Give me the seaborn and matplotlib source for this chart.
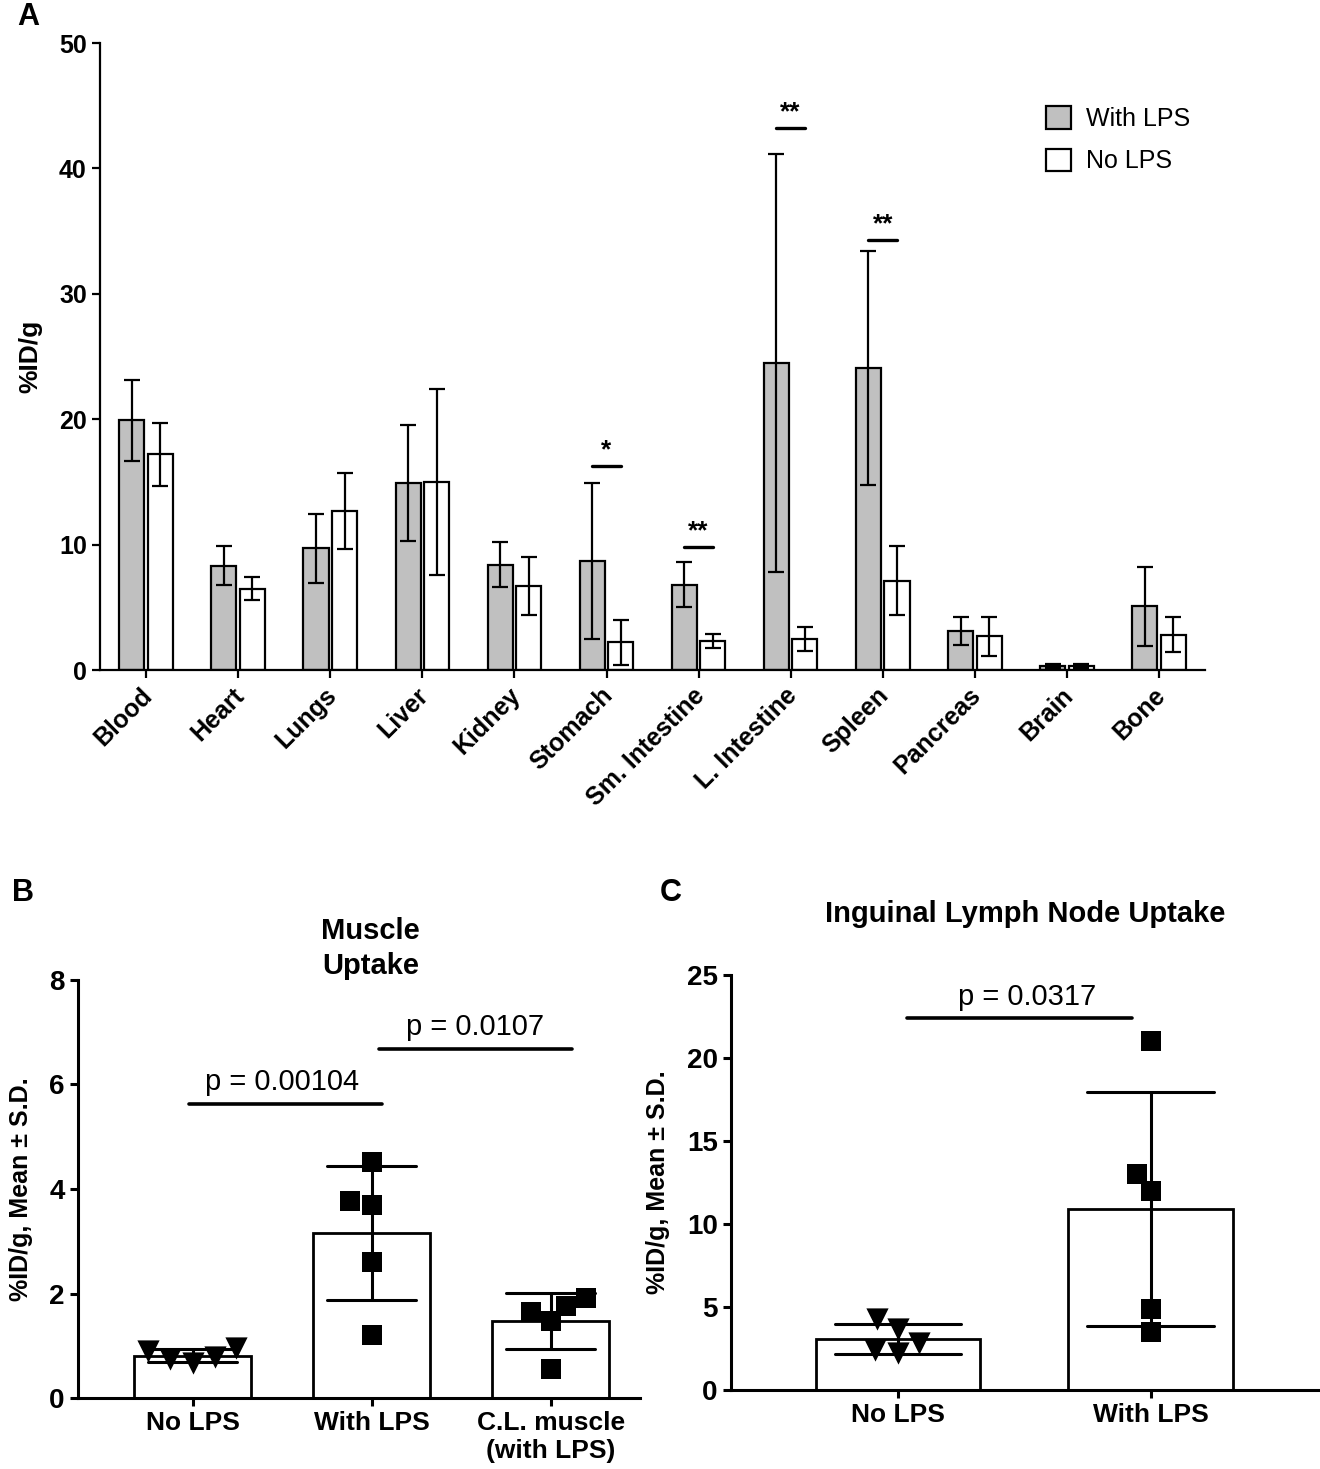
import numpy as np
import pandas as pd
import matplotlib
matplotlib.use("Agg")
import matplotlib.pyplot as plt
import matplotlib.transforms as mtransforms
import seaborn as sns

# ---- Panel A: biodistribution, mean and SD per organ ----
organs = ["Blood", "Heart", "Lungs", "Liver", "Kidney", "Stomach",
          "Sm. Intestine", "L. Intestine", "Spleen", "Pancreas", "Brain", "Bone"]
with_lps_mean = [19.9, 8.3, 9.7, 14.9, 8.4, 8.7, 6.8, 24.5, 24.1, 3.1, 0.3, 5.1]
with_lps_sd = [3.2, 1.55, 2.75, 4.65, 1.8, 6.25, 1.8, 16.65, 9.35, 1.1, 0.15, 3.15]
no_lps_mean = [17.2, 6.5, 12.7, 15.0, 6.7, 2.2, 2.3, 2.5, 7.1, 2.7, 0.3, 2.8]
no_lps_sd = [2.5, 0.9, 3.05, 7.4, 2.3, 1.8, 0.55, 0.95, 2.75, 1.55, 0.15, 1.4]
# significance marks: (organ index, bracket height, label)
sig_marks = [(5, 16.3, "*"), (6, 9.8, "**"), (7, 43.2, "**"), (8, 34.3, "**")]

# ---- Panel B: muscle uptake, individual animals ----
muscle_groups = ["No LPS", "With LPS", "C.L. muscle\n(with LPS)"]
muscle_no_lps = [0.74, 0.96, 0.79, 0.90, 0.67]
muscle_with_lps = [4.52, 3.69, 3.78, 2.61, 1.21]
muscle_cl = [1.76, 1.91, 1.65, 1.48, 0.55]

# ---- Panel C: inguinal lymph node uptake ----
lymph_groups = ["No LPS", "With LPS"]
lymph_no_lps = [2.2, 4.3, 2.8, 3.7, 2.4]
lymph_with_lps = [21.0, 12.0, 13.0, 4.9, 3.5]

sns.set_style("ticks")
plt.rcParams['font.family'] = ['Liberation Sans', 'DejaVu Sans']
plt.rcParams['text.color'] = 'black'
plt.rcParams['axes.labelcolor'] = 'black'

fig = plt.figure(figsize=(13.2, 14.69), dpi=100)


def style_axis(ax, lw, ticksize):
    sns.despine(ax=ax)
    for side in ("left", "bottom"):
        ax.spines[side].set_linewidth(lw)
        ax.spines[side].set_color("black")
    ax.tick_params(axis="both", width=lw, length=6, color="black",
                   labelsize=ticksize, labelcolor="black")


# ================= Panel A =================
ax_a = fig.add_axes([0.0758, 0.5439, 0.8371, 0.4268])
df_a = pd.DataFrame({
    "organ": organs * 2,
    "group": ["With LPS"] * len(organs) + ["No LPS"] * len(organs),
    "value": with_lps_mean + no_lps_mean,
})
sns.barplot(data=df_a, x="organ", y="value", hue="group", order=organs,
            hue_order=["With LPS", "No LPS"],
            palette={"With LPS": "#c0c0c0", "No LPS": "white"},
            saturation=1, edgecolor="black", linewidth=1.6,
            width=0.62, gap=0.12, errorbar=None, ax=ax_a)

centers = []
for cont, sds in zip(ax_a.containers, [with_lps_sd, no_lps_sd]):
    xs = [p.get_x() + p.get_width() / 2 for p in cont]
    ys = [p.get_height() for p in cont]
    centers.append(xs)
    ax_a.errorbar(xs, ys, yerr=sds, fmt="none", ecolor="black",
                  elinewidth=1.6, capsize=5.5, capthick=1.6, zorder=4)

for idx, h, lab in sig_marks:
    ax_a.plot([centers[0][idx], centers[1][idx]], [h, h], color="black", lw=2.4)
    ax_a.text((centers[0][idx] + centers[1][idx]) / 2, h + 0.3, lab,
              ha="center", va="bottom", fontsize=19, fontweight="bold")

ax_a.set_xlim(-0.5, 11.5)
ax_a.set_ylim(0, 50)
ax_a.set_yticks([0, 10, 20, 30, 40, 50])
style_axis(ax_a, 1.6, 18)
ax_a.set_xlabel("")
ax_a.set_ylabel("%ID/g", fontsize=19, fontweight="bold", labelpad=12)
shift = mtransforms.ScaledTranslation(-6 / 100, 0, fig.dpi_scale_trans)
for lbl in ax_a.get_xticklabels():
    lbl.set_rotation(45)
    lbl.set_ha("right")
    lbl.set_rotation_mode("anchor")
    lbl.set_fontweight("bold")
    lbl.set_fontsize(18)
    lbl.set_transform(lbl.get_transform() + shift)
plt.setp(ax_a.get_yticklabels(), fontweight="bold")

handles, labels = ax_a.get_legend_handles_labels()
ax_a.legend(handles, labels, loc="upper left", bbox_to_anchor=(0.836, 0.935),
            frameon=False, fontsize=18, handlelength=1.0, handleheight=1.0,
            labelspacing=0.7, handletextpad=0.6)

# ================= Panel B =================
ax_b = fig.add_axes([0.0591, 0.0483, 0.4258, 0.2846])
df_b = pd.DataFrame({
    "group": [muscle_groups[0]] * len(muscle_no_lps)
             + [muscle_groups[1]] * len(muscle_with_lps)
             + [muscle_groups[2]] * len(muscle_cl),
    "value": muscle_no_lps + muscle_with_lps + muscle_cl,
})
sns.barplot(data=df_b, x="group", y="value", order=muscle_groups,
            errorbar="sd", capsize=0.5, color="white", saturation=1,
            edgecolor="black", linewidth=2.0, width=0.65,
            err_kws={"color": "black", "linewidth": 2.2}, ax=ax_b)
sns.swarmplot(data=df_b[df_b["group"] == muscle_groups[0]], x="group", y="value",
              order=muscle_groups, marker="v", color="black", size=16, ax=ax_b)
sns.swarmplot(data=df_b[df_b["group"] != muscle_groups[0]], x="group", y="value",
              order=muscle_groups, marker="s", color="black", size=15, ax=ax_b)

ax_b.plot([-0.02, 1.06], [5.63, 5.63], color="black", lw=2.6)
ax_b.text(0.5, 5.78, "p = 0.00104", ha="center", va="bottom", fontsize=21)
ax_b.plot([1.04, 2.12], [6.68, 6.68], color="black", lw=2.6)
ax_b.text(1.58, 6.83, "p = 0.0107", ha="center", va="bottom", fontsize=21)

ax_b.set_xlim(-0.64, 2.5)
ax_b.set_ylim(0, 8)
ax_b.set_yticks([0, 2, 4, 6, 8])
style_axis(ax_b, 2.2, 20)
ax_b.set_xlabel("")
ax_b.set_ylabel("%ID/g, Mean \u00b1 S.D.", fontsize=18, fontweight="bold", labelpad=12)
plt.setp(ax_b.get_xticklabels(), fontweight="bold", fontsize=19)
plt.setp(ax_b.get_yticklabels(), fontweight="bold")
ax_b.text(0.52, 1.075, "Muscle\nUptake", transform=ax_b.transAxes, ha="center",
          va="center", fontsize=21, fontweight="bold", linespacing=1.3)

# ================= Panel C =================
ax_c = fig.add_axes([0.5538, 0.0538, 0.4462, 0.2825])
df_c = pd.DataFrame({
    "group": [lymph_groups[0]] * len(lymph_no_lps) + [lymph_groups[1]] * len(lymph_with_lps),
    "value": lymph_no_lps + lymph_with_lps,
})
sns.barplot(data=df_c, x="group", y="value", order=lymph_groups,
            errorbar="sd", capsize=0.5, color="white", saturation=1,
            edgecolor="black", linewidth=2.0, width=0.65,
            err_kws={"color": "black", "linewidth": 2.2}, ax=ax_c)
sns.swarmplot(data=df_c[df_c["group"] == lymph_groups[0]], x="group", y="value",
              order=lymph_groups, marker="v", color="black", size=16, ax=ax_c)
sns.swarmplot(data=df_c[df_c["group"] == lymph_groups[1]], x="group", y="value",
              order=lymph_groups, marker="s", color="black", size=15, ax=ax_c)

ax_c.plot([0.036, 0.925], [22.4, 22.4], color="black", lw=2.6)
ax_c.text(0.51, 22.85, "p = 0.0317", ha="center", va="bottom", fontsize=21)

ax_c.set_xlim(-0.66, 1.67)
ax_c.set_ylim(0, 25)
ax_c.set_yticks([0, 5, 10, 15, 20, 25])
style_axis(ax_c, 2.2, 20)
ax_c.set_xlabel("")
ax_c.set_ylabel("%ID/g, Mean \u00b1 S.D.", fontsize=18, fontweight="bold", labelpad=12)
plt.setp(ax_c.get_xticklabels(), fontweight="bold", fontsize=19)
plt.setp(ax_c.get_yticklabels(), fontweight="bold")
ax_c.text(0.5, 1.147, "Inguinal Lymph Node Uptake", transform=ax_c.transAxes,
          ha="center", va="center", fontsize=21, fontweight="bold")

# panel letters
fig.text(0.013, 1 - 17 / 1469, "A", fontsize=22, fontweight="bold", va="center")
fig.text(0.009, 1 - 893 / 1469, "B", fontsize=22, fontweight="bold", va="center")
fig.text(0.5, 1 - 893 / 1469, "C", fontsize=22, fontweight="bold", va="center")

fig.savefig("out.png", dpi=100)
